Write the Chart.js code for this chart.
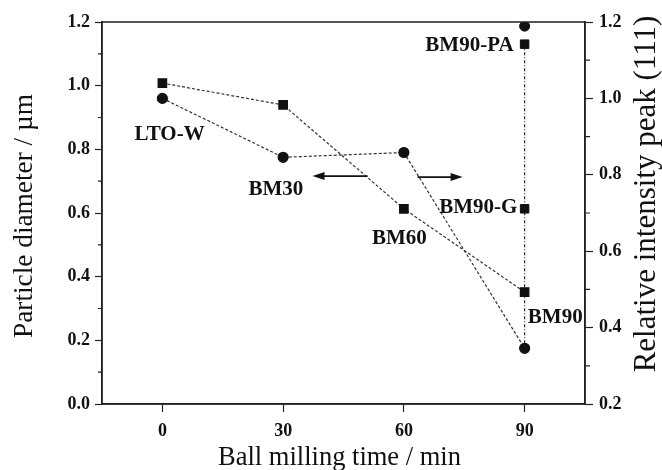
<!DOCTYPE html>
<html>
<head>
<meta charset="utf-8">
<script src="https://cdn.jsdelivr.net/npm/chart.js@4/dist/chart.umd.min.js"></script>
<style>
  html, body { margin: 0; padding: 0; background: #ffffff; }
  #wrap { width: 662px; height: 470px; }
</style>
</head>
<body>
<div id="wrap"><canvas id="c" width="662" height="470"></canvas></div>
<script>
// Ball-milling series (minutes)
const millingTime = [0, 30, 60, 90];
// Particle diameter, µm (left axis, circles)
const particleDiameter = [0.96, 0.775, 0.79, 0.175];
// Relative intensity of the (111) peak (right axis, squares)
const relIntensity = [1.04, 0.983, 0.711, 0.493];

// Post-treated BM90 samples: BM90-PA, BM90-G
const treatedTime = [90, 90];
const treatedIntensity = [1.142, 0.711];
const treatedDiameterTime = [90];
const treatedDiameter = [1.187];

// Axis ticks
const timeTicks = [0, 30, 60, 90];

// Sample names and where they are written (time, diameter units)
const sampleNames = ['LTO-W', 'BM30', 'BM60', 'BM90', 'BM90-G', 'BM90-PA'];
const nameTime = [1.8, 28.2, 58.9, 97.6, 78.5, 76.3];
const nameLevel = [0.845, 0.674, 0.52, 0.273, 0.617, 1.126];

const bottomTitle = 'Ball milling time / min';
const leftTitle = 'Particle diameter / µm';
const rightTitle = 'Relative intensity peak (111)';

const INK = '#111111';
const SERIF = '"Liberation Serif", "Times New Roman", serif';

const pairs = (xs, ys) => xs.map((x, i) => ({ x: x, y: ys[i] }));

const decorations = {
  id: 'decorations',
  beforeDatasetsDraw(chart) {
    // dash-dot link down the 90 min column: BM90-PA square to BM90 circle
    const ctx = chart.ctx;
    const top = chart.getDatasetMeta(2).data[0];
    const bottom = chart.getDatasetMeta(0).data[3];
    ctx.save();
    ctx.strokeStyle = '#333';
    ctx.lineWidth = 1.2;
    ctx.setLineDash([3, 2, 1, 2]);
    ctx.beginPath();
    ctx.moveTo(top.x, top.y);
    ctx.lineTo(bottom.x, bottom.y);
    ctx.stroke();
    ctx.restore();
  },
  afterDraw(chart) {
    const ctx = chart.ctx;
    const a = chart.chartArea;
    const x = chart.scales.x, yL = chart.scales.y, yR = chart.scales.y1;
    ctx.save();
    // frame
    ctx.strokeStyle = '#222';
    ctx.lineWidth = 1.5;
    ctx.strokeRect(a.left, a.top, a.right - a.left, a.bottom - a.top);
    // minor ticks
    ctx.lineWidth = 1.2;
    ctx.beginPath();
    for (let v = 0.1; v < 1.2; v += 0.2) {
      const py = yL.getPixelForValue(v);
      ctx.moveTo(a.left, py); ctx.lineTo(a.left - 4, py);
    }
    for (let v = 0.3; v < 1.2; v += 0.2) {
      const py = yR.getPixelForValue(v);
      ctx.moveTo(a.right, py); ctx.lineTo(a.right + 5, py);
    }
    ctx.stroke();

    // arrows pointing to the axis each curve belongs to
    const arrow = (x0, x1, lvl) => {
      const px0 = x.getPixelForValue(x0), px1 = x.getPixelForValue(x1);
      const py = yL.getPixelForValue(lvl);
      const dir = Math.sign(px1 - px0);
      ctx.strokeStyle = INK; ctx.fillStyle = INK; ctx.lineWidth = 1.8;
      ctx.beginPath(); ctx.moveTo(px0, py); ctx.lineTo(px1 - dir * 6, py); ctx.stroke();
      ctx.beginPath();
      ctx.moveTo(px1, py);
      ctx.lineTo(px1 - dir * 12, py - 4);
      ctx.lineTo(px1 - dir * 12, py + 4);
      ctx.closePath(); ctx.fill();
    };
    arrow(51.0, 37.3, 0.716);
    arrow(63.4, 74.6, 0.713);

    // sample names
    ctx.fillStyle = INK;
    ctx.font = 'bold 21px ' + SERIF;
    ctx.textAlign = 'center';
    ctx.textBaseline = 'middle';
    sampleNames.forEach((n, i) => {
      ctx.fillText(n, x.getPixelForValue(nameTime[i]), yL.getPixelForValue(nameLevel[i]));
    });

    // horizontal axis title
    ctx.font = '26.5px ' + SERIF;
    ctx.textBaseline = 'alphabetic';
    ctx.fillText(bottomTitle, (a.left + a.right) / 2 - 4, a.bottom + 61);

    // vertical axis titles, both reading bottom to top
    const vTitle = (text, cx, cy, size) => {
      ctx.save();
      ctx.translate(cx, cy);
      ctx.rotate(-Math.PI / 2);
      ctx.font = size + 'px ' + SERIF;
      ctx.textAlign = 'center';
      ctx.textBaseline = 'middle';
      ctx.fillText(text, 0, 0);
      ctx.restore();
    };
    vTitle(leftTitle, yL.left + 25, (a.top + a.bottom) / 2 + 3, 27.3);
    vTitle(rightTitle, yR.right - 15, (a.top + a.bottom) / 2 - 19, 31);
    ctx.restore();
  }
};

const lineStyle = { borderColor: '#333', borderWidth: 1.2, borderDash: [3, 2], pointBackgroundColor: INK, pointBorderColor: INK, showLine: true, fill: false };

new Chart(document.getElementById('c'), {
  type: 'scatter',
  data: {
    datasets: [
      Object.assign({ label: 'Particle diameter', data: pairs(millingTime, particleDiameter), yAxisID: 'y', pointStyle: 'circle', pointRadius: 5 }, lineStyle),
      Object.assign({ label: 'Relative intensity', data: pairs(millingTime, relIntensity), yAxisID: 'y1', pointStyle: 'rect', pointRadius: 6 }, lineStyle),
      { label: 'Treated intensity', data: pairs(treatedTime, treatedIntensity), yAxisID: 'y1', pointStyle: 'rect', pointRadius: 6, showLine: false, pointBackgroundColor: INK, pointBorderColor: INK },
      { label: 'Treated diameter', data: pairs(treatedDiameterTime, treatedDiameter), yAxisID: 'y', pointStyle: 'circle', pointRadius: 5, showLine: false, pointBackgroundColor: INK, pointBorderColor: INK }
    ]
  },
  options: {
    responsive: false,
    animation: false,
    events: [],
    layout: { padding: { top: 22, left: 0, right: 0, bottom: 0 } },
    plugins: { legend: { display: false }, tooltip: { enabled: false } },
    scales: {
      x: {
        type: 'linear', position: 'bottom', min: -15, max: 105,
        afterBuildTicks: s => { s.ticks = timeTicks.map(v => ({ value: v })); },
        afterFit: s => { s.height = 66; },
        grid: { drawOnChartArea: false, drawTicks: true, tickLength: 8, color: '#222', tickWidth: 1.2 },
        border: { display: true, color: '#222', width: 1.5 },
        ticks: { color: INK, font: { family: SERIF, size: 18, weight: 'bold' }, padding: 9 },
        title: { display: false }
      },
      y: {
        type: 'linear', position: 'left', min: 0, max: 1.2,
        afterFit: s => { s.width = 102; },
        grid: { drawOnChartArea: false, drawTicks: true, tickLength: 7, color: '#222', tickWidth: 1.2 },
        border: { display: true, color: '#222', width: 1.5 },
        ticks: { stepSize: 0.2, color: INK, font: { family: SERIF, size: 18, weight: 'bold' }, padding: 5, callback: v => v.toFixed(1) },
        title: { display: false }
      },
      y1: {
        type: 'linear', position: 'right', min: 0.2, max: 1.2,
        afterFit: s => { s.width = 77; },
        grid: { drawOnChartArea: false, drawTicks: true, tickLength: 8, color: '#222', tickWidth: 1.2 },
        border: { display: true, color: '#222', width: 1.5 },
        ticks: { stepSize: 0.2, color: INK, font: { family: SERIF, size: 18, weight: 'bold' }, padding: 6, callback: v => v.toFixed(1) },
        title: { display: false }
      }
    }
  },
  plugins: [decorations]
});
</script>
</body>
</html>
